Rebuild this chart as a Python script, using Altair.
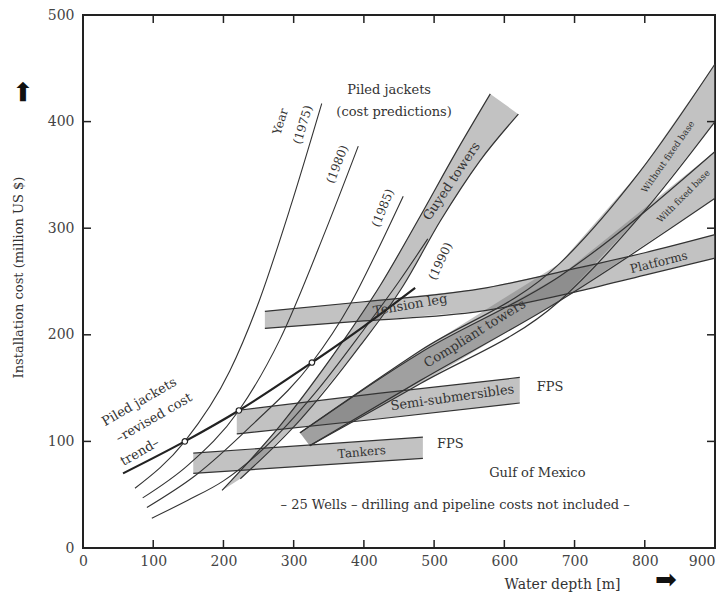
import altair as alt
import pandas as pd

# ---------------- data ----------------
x_ticks = [0, 100, 200, 300, 400, 500, 600, 700, 800, 900]
y_ticks = [0, 100, 200, 300, 400, 500]
inner_x_ticks = [100, 200, 300, 400, 500, 600, 700, 800]
inner_y_ticks = [100, 200, 300, 400]

# piled jackets cost-prediction curves
c1975_x = [74, 145, 209, 251, 295, 340]
c1975_y = [56, 100, 166, 232, 319, 417]
c1980_x = [85, 150, 222, 280, 345, 392]
c1980_y = [47, 78, 129, 195, 297, 377]
c1985_x = [91, 160, 240, 326, 380, 420, 456]
c1985_y = [38, 68, 115, 174, 228, 280, 330]
c1990_x = [98, 150, 200, 260, 330, 400, 450, 491]
c1990_y = [28, 45, 63, 95, 145, 205, 250, 290]

# revised cost trend
trend_x = [57, 145, 222, 326, 400, 473]
trend_y = [70, 100, 129, 174, 208, 244]
circle_x = [145, 222, 326]
circle_y = [100, 129, 174]

# bands: upper edge / lower edge
tlp_up_x = [259, 400, 565, 700, 800, 900]
tlp_up_y = [222, 231, 243, 262, 277, 294]
tlp_lo_x = [259, 400, 565, 700, 800, 900]
tlp_lo_y = [206, 213, 222, 240, 256, 272]

guy_up_x = [198, 281, 366, 423, 480, 530, 580]
guy_up_y = [54, 115, 190, 246, 311, 370, 426]
guy_lo_x = [224, 309, 395, 456, 509, 565, 620]
guy_lo_y = [65, 120, 190, 246, 307, 363, 407]

c1_up_x = [309, 480, 679, 793, 900]
c1_up_y = [108, 185, 267, 353, 454]
c1_lo_x = [323, 480, 679, 793, 900]
c1_lo_y = [96, 154, 232, 311, 400]

c2_up_x = [309, 480, 679, 900]
c2_up_y = [108, 183, 255, 372]
c2_lo_x = [323, 480, 679, 900]
c2_lo_y = [96, 157, 232, 328]

semi_up_x = [219, 420, 622]
semi_up_y = [129, 145, 160]
semi_lo_x = [219, 420, 622]
semi_lo_y = [107, 121, 136]

tank_up_x = [157, 484]
tank_up_y = [89, 104]
tank_lo_x = [157, 484]
tank_lo_y = [70, 84]

label_text = ["Piled jackets", "(cost predictions)", "Year", "(1975)", "(1980)", "(1985)", "(1990)",
              "Guyed towers", "Tension leg", "Platforms", "Compliant towers",
              "Without fixed base", "With fixed base", "Semi-submersibles", "FPS",
              "Tankers", "FPS", "Gulf of Mexico",
              "– 25 Wells – drilling and pipeline costs not included –",
              "Piled jackets", "–revised cost", "trend–"]
label_x = [436, 443, 281, 313, 362, 427, 509, 525, 466, 820, 558, 833, 855, 526, 665, 397, 523, 647, 530, 80, 101, 81]
label_y = [430, 409, 400, 397, 360, 319, 269, 344, 228, 268, 201, 367, 330, 141, 151, 90, 98, 70, 40, 137, 122, 90]
label_angle = [0, 0, 287, 287, 291, 292, 295, 304, 350, 346, 328, 305, 315, 352, 0, 355, 0, 0, 0, 330, 330, 330]
label_size = [13, 13, 12, 12, 12, 12, 12, 13, 13, 12, 13, 9, 9, 13, 13, 12, 13, 13, 13, 13, 13, 13]

# ---------------- tables ----------------
curve_rows = []
for name, xs_, ys_ in [("1975", c1975_x, c1975_y), ("1980", c1980_x, c1980_y),
                       ("1985", c1985_x, c1985_y), ("1990", c1990_x, c1990_y)]:
    for i, (a, b) in enumerate(zip(xs_, ys_)):
        curve_rows.append({"curve": name, "x": a, "y": b, "o": i})
curves = pd.DataFrame(curve_rows)
trend = pd.DataFrame({"x": trend_x, "y": trend_y})
circles = pd.DataFrame({"x": circle_x, "y": circle_y})

bands = [("tlp", tlp_up_x, tlp_up_y, tlp_lo_x, tlp_lo_y),
         ("guyed", guy_up_x, guy_up_y, guy_lo_x, guy_lo_y),
         ("c1", c1_up_x, c1_up_y, c1_lo_x, c1_lo_y),
         ("c2", c2_up_x, c2_up_y, c2_lo_x, c2_lo_y),
         ("semi", semi_up_x, semi_up_y, semi_lo_x, semi_lo_y),
         ("tank", tank_up_x, tank_up_y, tank_lo_x, tank_lo_y)]
poly_rows, edge_rows = [], []
for name, ux, uy, lx, ly in bands:
    k = 0
    for a, b in zip(ux, uy):
        poly_rows.append({"band": name, "x": a, "y": b, "o": k}); k += 1
    for a, b in zip(lx[::-1], ly[::-1]):
        poly_rows.append({"band": name, "x": a, "y": b, "o": k}); k += 1
    for i, (a, b) in enumerate(zip(ux, uy)):
        edge_rows.append({"edge": name + "_u", "x": a, "y": b, "o": i})
    for i, (a, b) in enumerate(zip(lx, ly)):
        edge_rows.append({"edge": name + "_l", "x": a, "y": b, "o": i})
poly = pd.DataFrame(poly_rows)
edges = pd.DataFrame(edge_rows)

labels = pd.DataFrame({"text": label_text, "x": label_x, "y": label_y,
                       "angle": label_angle, "size": label_size})

bottom_t = pd.DataFrame({"x": inner_x_ticks})
left_t = pd.DataFrame({"y": inner_y_ticks})

# ---------------- chart ----------------
W, H = 632, 533
FONT = "DejaVu Serif"
xs = alt.Scale(domain=[0, 900], nice=False, zero=False)
ys = alt.Scale(domain=[0, 500], nice=False, zero=False)

xaxis = alt.Axis(values=x_ticks, title="Water depth [m]", tickSize=0, domain=False, grid=False,
                 labelFont=FONT, labelFontSize=14, labelColor="#444", labelPadding=6,
                 labelFlush=False, labelOverlap=False,
                 labelAlign={"expr": "datum.value == 900 ? 'right' : 'center'"},
                 titleFont=FONT, titleFontSize=14, titleFontWeight="normal", titleColor="#333",
                 titleX=479, titleY=36, titleAlign="center", titleBaseline="middle")
yaxis = alt.Axis(values=y_ticks, title="Installation cost (million US $)", tickSize=0, domain=False,
                 grid=False, labelFont=FONT, labelFontSize=14, labelColor="#444", labelPadding=9,
                 labelFlush=False, labelOverlap=False,
                 titleFont=FONT, titleFontSize=13, titleFontWeight="normal", titleColor="#333",
                 titleX=-65, titleY=262, titleAngle=270, titleAlign="center", titleBaseline="middle")

X = alt.X("x:Q", scale=xs, axis=xaxis)
Y = alt.Y("y:Q", scale=ys, axis=yaxis)

fills = alt.Chart(poly).mark_line(fill="#777777", fillOpacity=0.45, strokeOpacity=0,
                                  interpolate="linear").encode(
    x=X, y=Y, order="o:Q", detail="band:N")

edge_lines = alt.Chart(edges).mark_line(color="#333333", strokeWidth=1.2,
                                        interpolate="monotone").encode(
    x=X, y=Y, order="o:Q", detail="edge:N")

curve_lines = alt.Chart(curves).mark_line(color="#333333", strokeWidth=1.1,
                                          interpolate="monotone").encode(
    x=X, y=Y, order="o:Q", detail="curve:N")

trend_line = alt.Chart(trend).mark_line(color="#222222", strokeWidth=2.2,
                                        interpolate="monotone").encode(x=X, y=Y)

circle_pts = alt.Chart(circles).mark_point(shape="circle", size=30, filled=False, fill="white",
                                           fillOpacity=1, stroke="#222222", strokeWidth=1.2).encode(x=X, y=Y)

texts = alt.Chart(labels).mark_text(font=FONT, color="#333333", align="center",
                                    baseline="middle").encode(
    x=X, y=Y, text="text:N",
    angle=alt.Angle("angle:Q", scale=None),
    size=alt.Size("size:Q", scale=None))

tick_b = alt.Chart(bottom_t).mark_rule(color="#222222", strokeWidth=1.5).encode(
    x=X, y=alt.value(H), y2=alt.value(H - 8))
tick_t = alt.Chart(bottom_t).mark_rule(color="#222222", strokeWidth=1.5).encode(
    x=X, y=alt.value(0), y2=alt.value(8))
tick_l = alt.Chart(left_t).mark_rule(color="#222222", strokeWidth=1.5).encode(
    y=Y, x=alt.value(0), x2=alt.value(8))
tick_r = alt.Chart(left_t).mark_rule(color="#222222", strokeWidth=1.5).encode(
    y=Y, x=alt.value(W), x2=alt.value(W - 8))

arrows = alt.Chart(pd.DataFrame({"x": [-86, 830], "y": [428, -30], "a": [270, 0],
                                 "t": ["➡", "➡"]})).mark_text(
    font="DejaVu Sans", fontSize=26, color="#111111", align="center", baseline="middle").encode(
    x=X, y=Y, text="t:N", angle=alt.Angle("a:Q", scale=None))

chart = alt.layer(fills, edge_lines, curve_lines, trend_line, circle_pts, texts,
                  tick_b, tick_t, tick_l, tick_r, arrows).properties(
    width=W, height=H,
    autosize=alt.AutoSizeParams(type="none"),
    padding={"left": 75, "top": 7, "right": 2, "bottom": 45},
    background="white"
).configure_view(stroke="#222222", strokeWidth=2)

chart.save("out.html", embed_options={"renderer": "svg", "actions": False})
